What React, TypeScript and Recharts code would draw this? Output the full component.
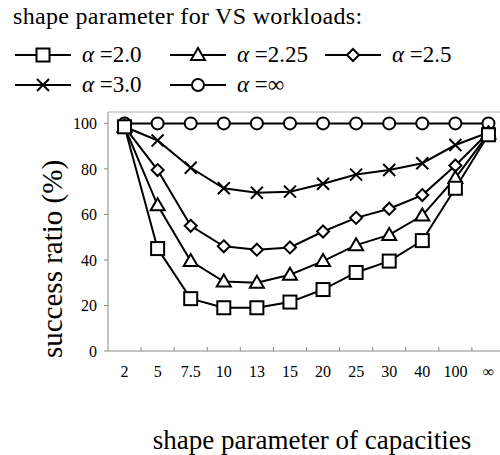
import { LineChart, Line, XAxis, YAxis, ReferenceLine } from 'recharts';

const categories = ['2', '5', '7.5', '10', '13', '15', '20', '25', '30', '40', '100', '∞'];
const alpha20 = [98.5, 45, 23, 19, 19, 21.5, 27, 34.5, 39.5, 48.5, 71.5, 95];
const alpha225 = [98.5, 64, 39.5, 30.5, 30, 33.5, 39.5, 46.5, 51, 59.5, 76, 95.5];
const alpha25 = [98.5, 79.5, 55, 46, 44.5, 45.5, 52.5, 58.5, 62.5, 68.5, 81.5, 96];
const alpha30 = [98.5, 92.5, 80.5, 71.5, 69.5, 70, 73.5, 77.5, 79.5, 82.5, 90.5, 96];
const alphaInf = [100, 100, 100, 100, 100, 100, 100, 100, 100, 100, 100, 100];
const yTicks = [0, 20, 40, 60, 80, 100];

const series = [
  { key: 'aInf', label: '∞', shape: 'circle', values: alphaInf },
  { key: 'a30', label: '3.0', shape: 'cross', values: alpha30 },
  { key: 'a25', label: '2.5', shape: 'diamond', values: alpha25 },
  { key: 'a225', label: '2.25', shape: 'triangle', values: alpha225 },
  { key: 'a20', label: '2.0', shape: 'square', values: alpha20 },
];

const data = categories.map((cat, i) => {
  const row: any = { cat };
  series.forEach((s) => (row[s.key] = s.values[i]));
  return row;
});

const serif = 'Liberation Serif, Times New Roman, serif';

function Marker({ shape, cx, cy }: { shape: string; cx: number; cy: number }) {
  const common = { fill: '#fff', stroke: '#000', strokeWidth: 2 };
  switch (shape) {
    case 'square':
      return <rect x={cx - 6.5} y={cy - 6.5} width={13} height={13} {...common} />;
    case 'triangle':
      return <polygon points={`${cx},${cy - 7} ${cx + 7},${cy + 5} ${cx - 7},${cy + 5}`} {...common} />;
    case 'diamond':
      return <polygon points={`${cx},${cy - 6} ${cx + 6},${cy} ${cx},${cy + 6} ${cx - 6},${cy}`} {...common} />;
    case 'cross':
      return (
        <g stroke="#000" strokeWidth={2}>
          <line x1={cx - 6} y1={cy - 6} x2={cx + 6} y2={cy + 6} />
          <line x1={cx - 6} y1={cy + 6} x2={cx + 6} y2={cy - 6} />
        </g>
      );
    default:
      return <circle cx={cx} cy={cy} r={6} {...common} />;
  }
}

// category labels sit in the middle of each band, tick marks on band edges pointing up
const XTick = (props: any) => {
  const { x, y, payload, index, visibleTicksCount } = props;
  const edge = x + (payload.offset || 0);
  return (
    <g>
      <text x={x} y={y + 26} textAnchor="middle" fontSize={16} fontFamily={serif} fill="#000">
        {payload.value}
      </text>
      {index < visibleTicksCount - 1 && <line x1={edge} x2={edge} y1={y} y2={y - 4} stroke="#888" />}
    </g>
  );
};

function LegendItem({ shape, label, left, top }: any) {
  return (
    <div style={{ position: 'absolute', left, top, display: 'flex', alignItems: 'center' }}>
      <svg width={58} height={20}>
        <line x1={1} x2={57} y1={10} y2={10} stroke="#000" strokeWidth={2} />
        <Marker shape={shape} cx={29} cy={10} />
      </svg>
      <span style={{ marginLeft: 10, fontSize: 23, fontFamily: serif }}>
        <i>α</i> ={label}
      </span>
    </div>
  );
}

const legendOrder = ['square', 'triangle', 'diamond', 'cross', 'circle'];
const legendPos = [
  [14, 42], [169, 42], [324, 42],
  [14, 72], [169, 72],
];

export default function App() {
  return (
    <div style={{ position: 'absolute', left: 0, top: 0, width: 500, height: 455, overflow: 'hidden', background: '#fff' }}>
      <LineChart width={505} height={455} data={data} margin={{ top: 112, right: 0, left: 0, bottom: 74 }}>
        <XAxis
          dataKey="cat"
          scale="band"
          stroke="#888"
          tickLine={false}
          tickSize={0}
          tickMargin={0}
          tick={<XTick />}
          interval={0}
        />
        <YAxis
          width={108}
          domain={[0, 105]}
          ticks={yTicks}
          allowDataOverflow
          stroke="#888"
          tickSize={4}
          tickMargin={7}
          tick={{ fontSize: 16, fontFamily: serif, fill: '#000' }}
        />
        <ReferenceLine y={105} stroke="#aaa" />
        {series.map((s) => (
          <Line
            key={s.key}
            dataKey={s.key}
            stroke="#000"
            strokeWidth={2}
            isAnimationActive={false}
            dot={(p: any) => <Marker key={`${s.key}-${p.index}`} shape={s.shape} cx={p.cx} cy={p.cy} />}
          />
        ))}
      </LineChart>
      <div style={{ position: 'absolute', left: 13, top: 3, fontSize: 24, lineHeight: '27px', letterSpacing: 0.3, fontFamily: serif }}>
        shape parameter for VS workloads:
      </div>
      {legendOrder.map((shape, i) => {
        const s = series.find((x) => x.shape === shape)!;
        return <LegendItem key={shape} shape={shape} label={s.label} left={legendPos[i][0]} top={legendPos[i][1]} />;
      })}
      <div
        style={{
          position: 'absolute',
          left: 52,
          top: 259,
          transform: 'translate(-50%, -50%) rotate(-90deg)',
          whiteSpace: 'nowrap',
          fontSize: 29,
          fontFamily: serif,
        }}
      >
        success ratio (%)
      </div>
      <div
        style={{
          position: 'absolute',
          left: 312,
          top: 440,
          transform: 'translate(-50%, -50%)',
          whiteSpace: 'nowrap',
          fontSize: 27,
          fontFamily: serif,
        }}
      >
        shape parameter of capacities
      </div>
    </div>
  );
}
